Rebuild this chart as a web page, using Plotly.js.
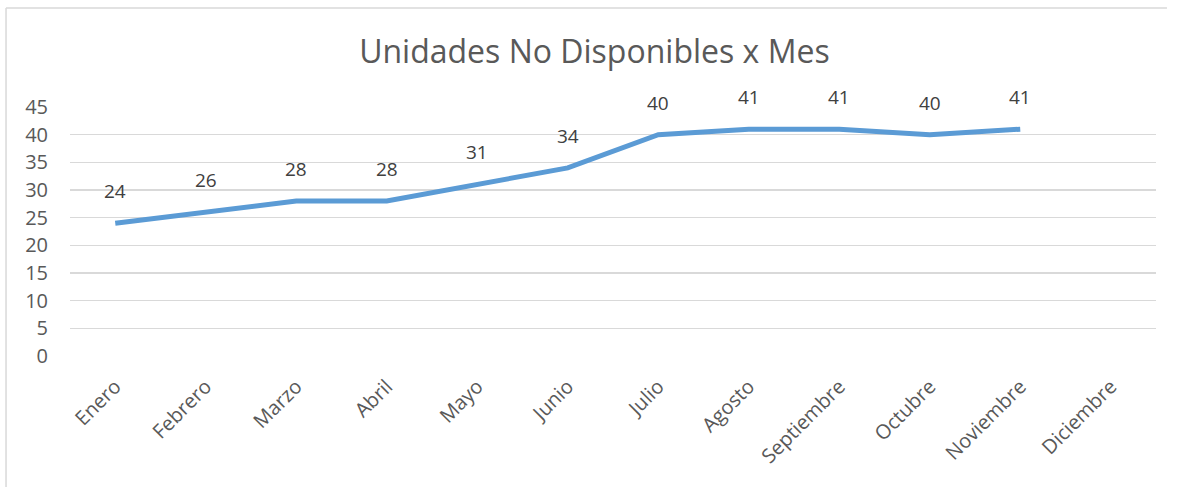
<!DOCTYPE html>
<html>
<head>
<meta charset="utf-8">
<script src="https://cdn.plot.ly/plotly-3.0.1.min.js"></script>
<style>html,body{margin:0;padding:0;background:#fff;}#chart{width:1177px;height:487px;}</style>
</head>
<body>
<div id="chart"></div>
<script>
const months = ["Enero","Febrero","Marzo","Abril","Mayo","Junio","Julio","Agosto","Septiembre","Octubre","Noviembre","Diciembre"];
const unidades = [24,26,28,28,31,34,40,41,41,40,41,null];
const yTicks = [0,5,10,15,20,25,30,35,40,45];

const font = "'Open Sans', 'DejaVu Sans', sans-serif";
const txt = "#595959";

const labels = [];
months.forEach((m,i)=>{
  if (unidades[i] !== null) {
    labels.push({x:m, y:unidades[i], text:String(unidades[i]), showarrow:false,
      yshift:32, font:{family:font,size:19,color:"#404040"}});
  }
});

const trace = {
  x: months, y: unidades, type:"scatter", mode:"lines",
  line:{color:"#5B9BD5", width:5}, connectgaps:false, hoverinfo:"x+y"
};

const layout = {
  width:1177, height:487,
  margin:{l:70, r:21, t:107, b:131},
  paper_bgcolor:"#fff", plot_bgcolor:"#fff",
  showlegend:false,
  title:{text:"Unidades No Disponibles x Mes", x:0.505, xref:"container", y:0.893, yanchor:"middle",
    font:{family:font, size:32, color:txt}},
  xaxis:{type:"category", categoryarray:months, tickangle:-45, showgrid:false, zeroline:false,
    showline:false, ticks:"", ticklabelstandoff:14,
    tickfont:{family:font,size:20,color:txt}, range:[-0.5,11.5]},
  yaxis:{range:[0,45], tickvals:yTicks, showgrid:true, gridcolor:"#d9d9d9", gridwidth:1.5,
    zeroline:false, showline:false, ticks:"", ticklabelstandoff:21,
    tickfont:{family:font,size:20,color:txt}},
  annotations: labels,
  shapes:[
    {type:"line", xref:"paper", yref:"paper", x0:-0.0589, x1:1.0101, y0:1.3976, y1:1.3976, line:{color:"#d9d9d9", width:1.5}},
    {type:"line", xref:"paper", yref:"paper", x0:-0.0589, x1:-0.0589, y0:1.3976, y1:-0.55, line:{color:"#d9d9d9", width:1.5}}
  ]
};
Plotly.newPlot("chart",[trace],layout,{displayModeBar:false, staticPlot:true});
</script>
</body>
</html>
